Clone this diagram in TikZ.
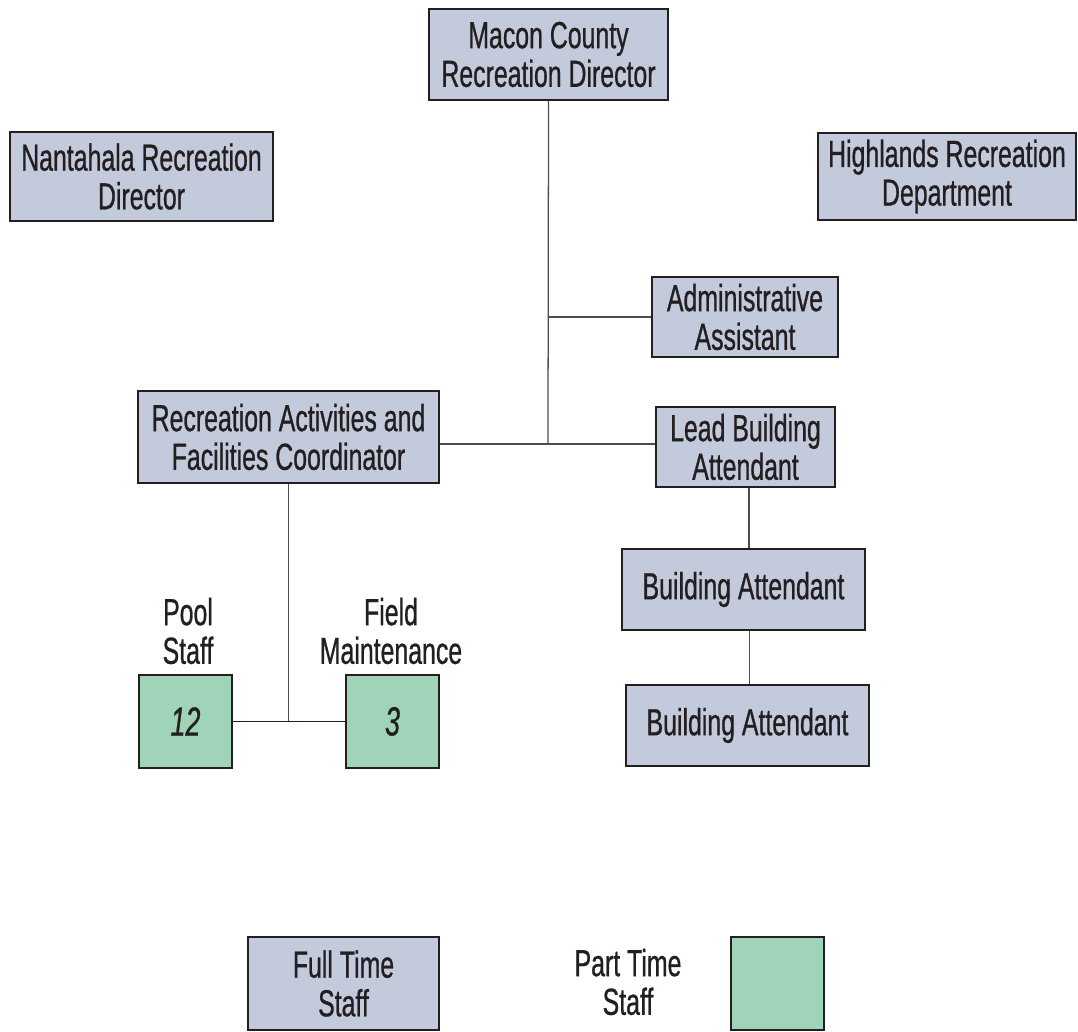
\documentclass[tikz,border=0pt]{standalone}
\usepackage{fontspec}
\setmainfont[FakeStretch=0.66,FakeBold=0.7]{Liberation Sans}
\usepackage{tikz}
\usetikzlibrary{positioning,calc}
\definecolor{full}{HTML}{C2CADC}
\definecolor{part}{HTML}{9FD4B8}
\definecolor{ink}{HTML}{231F20}
\tikzset{
  post/.style={draw=ink,line width=1.4pt,fill=full,inner sep=0pt,align=center,text=ink,
    font=\fontsize{26.8}{27.5}\selectfont},
  parttime/.style={post,fill=part,minimum width=23.25mm,minimum height=23.25mm,font=\fontsize{29}{30}\selectfont\itshape},
  caption/.style={align=center,text=ink,inner sep=0pt,font=\fontsize{26.8}{27.5}\selectfont},
  link/.style={draw=ink!80,line width=0.9pt},
}
\begin{document}
\begin{tikzpicture}[x=0.25mm,y=-0.25mm]
\useasboundingbox (0,0) rectangle (1078,1032);
% top row
\node[post,minimum width=59.75mm,minimum height=22.75mm] (macon) at (548.5,54.5){Macon County\\Recreation Director};
\node[post,minimum width=65.75mm,minimum height=22.25mm] (nantahala) at (141.5,176.5){Nantahala Recreation\\Director};
\node[post,minimum width=64.5mm,minimum height=21.75mm] (highlands) at (947,176.5){Highlands Recreation\\Department};
% middle
\node[post,minimum width=46.5mm,minimum height=20mm] (admin) at (745,317){Administrative\\Assistant};
\node[post,minimum width=75.25mm,minimum height=23mm] (coord) at (288.5,437){Recreation Activities and\\Facilities Coordinator};
\node[post,minimum width=44.75mm,minimum height=20mm] (lead) at (745.5,447){Lead Building\\Attendant};
\node[post,minimum width=60.75mm,minimum height=20.25mm] (attA) at (743.5,589.5){Building Attendant};
\node[post,minimum width=60.75mm,minimum height=20.25mm] (attB) at (747.5,725.5){Building Attendant};
% part time groups
\node[parttime] (pool) at (185.5,721.5){12};
\node[parttime] (field) at (392.5,721.5){3};
\node[caption] (poollbl) at (188,631){Pool\\Staff};
\node[caption] (fieldlbl) at (391,631){Field\\Maintenance};
% key
\node[post,minimum width=47.75mm,minimum height=23.25mm] (keyfull) at (343.5,983.5){Full Time\\Staff};
\node[caption] (keypartlbl) at (628,982){Part Time\\Staff};
\node[parttime] (keypart) at (777.5,983.5){};
% connectors
\coordinate (hub) at (548,444);
\draw[link] (macon.south) -- (hub);
\draw[link] (macon.south |- admin.west) -- (admin.west);
\draw[link] (coord.east |- hub) -- (lead.west |- hub);
\draw[link] ([xshift=2.5]lead.south) -- ([xshift=2.5]lead.south |- attA.north);
\draw[link] ([xshift=4.5]attA.south) -- ([xshift=4.5]attA.south |- attB.north);
\draw[link] (coord.south) -- (coord.south |- pool.east);
\draw[draw=ink,line width=1.3pt] (pool.east) -- (field.west);
\end{tikzpicture}
\end{document}
